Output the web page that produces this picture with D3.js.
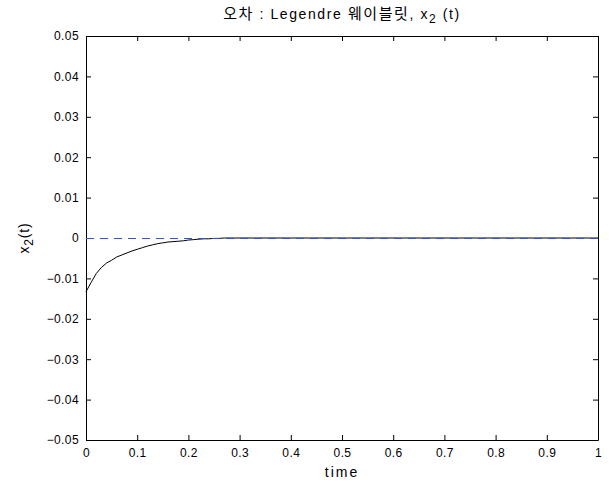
<!DOCTYPE html>
<html>
<head>
<meta charset="utf-8">
<script src="https://cdn.jsdelivr.net/npm/d3@7"></script>
<style>
  html, body { margin: 0; padding: 0; background: #fff; }
  svg { display: block; }
  text { font-family: "Liberation Sans", Arial, Helvetica, sans-serif; fill: #000; }
</style>
</head>
<body>
<script>
// Error of the x2(t) state, Legendre wavelet approximation
const timeValues = [0, 0.01, 0.02, 0.03, 0.04, 0.05, 0.06, 0.07, 0.08, 0.09,
  0.10, 0.11, 0.12, 0.13, 0.14, 0.15, 0.16, 0.17, 0.18, 0.19,
  0.20, 0.21, 0.22, 0.23, 0.24, 0.25, 0.26, 0.27, 1.0];
const errorValues = [-0.0133, -0.0110, -0.0088, -0.0073, -0.0062, -0.0055, -0.0047, -0.0042, -0.0037, -0.0032,
  -0.0028, -0.0024, -0.0020, -0.0017, -0.0014, -0.0012, -0.0010, -0.0009, -0.0008, -0.0007,
  -0.0005, -0.0004, -0.0003, -0.0002, -0.0002, -0.0001, -0.0001, 0, 0];
const referenceLine = [0, 0]; // zero reference over the full time range
const xTicks = [0, 0.1, 0.2, 0.3, 0.4, 0.5, 0.6, 0.7, 0.8, 0.9, 1];
const yTicks = [-0.05, -0.04, -0.03, -0.02, -0.01, 0, 0.01, 0.02, 0.03, 0.04, 0.05];

const W = 609, H = 483;
const m = { left: 86, right: 11, top: 36, bottom: 43 };
const iw = W - m.left - m.right, ih = H - m.top - m.bottom;

const svg = d3.select("body").append("svg").attr("width", W).attr("height", H);
const g = svg.append("g").attr("transform", `translate(${m.left},${m.top})`);

const x = d3.scaleLinear().domain([0, 1]).range([0, iw]);
const y = d3.scaleLinear().domain([-0.05, 0.05]).range([ih, 0]);

const fmtY = v => (Math.abs(v) < 1e-12 ? "0" : d3.format(".2f")(v));
const fmtX = v => (v === 0 ? "0" : v === 1 ? "1" : d3.format(".1f")(v));

// Axes with inward ticks, MATLAB-like box
const axBottom = g.append("g").attr("transform", `translate(0,${ih})`)
  .call(d3.axisBottom(x).tickValues(xTicks).tickFormat(fmtX).tickSizeInner(-5).tickSizeOuter(0).tickPadding(8));
const axTop = g.append("g")
  .call(d3.axisTop(x).tickValues(xTicks).tickFormat("").tickSizeInner(-5).tickSizeOuter(0));
const axLeft = g.append("g")
  .call(d3.axisLeft(y).tickValues(yTicks).tickFormat(fmtY).tickSizeInner(-5).tickSizeOuter(0).tickPadding(7));
const axRight = g.append("g").attr("transform", `translate(${iw},0)`)
  .call(d3.axisRight(y).tickValues(yTicks).tickFormat("").tickSizeInner(-5).tickSizeOuter(0));

[axBottom, axTop, axLeft, axRight].forEach(a => {
  a.select(".domain").attr("stroke", "#000").attr("stroke-width", 1);
  a.selectAll(".tick line").attr("stroke", "#000");
  a.selectAll("text").style("font-size", "12px").style("letter-spacing", "0.4px").attr("fill", "#000");
});
axBottom.selectAll("text").attr("dy", "0.71em");

// Error curve
const line = d3.line().x((d, i) => x(timeValues[i])).y(d => y(d));
g.append("path").datum(errorValues)
  .attr("fill", "none").attr("stroke", "#000").attr("stroke-width", 1)
  .attr("d", line);

// Dashed zero reference
g.append("path").datum(referenceLine)
  .attr("transform", "translate(0,0.5)")
  .attr("fill", "none").attr("stroke", "#2f57c8").attr("stroke-width", 1)
  .attr("stroke-dasharray", "8,6")
  .attr("d", d3.line().x((d, i) => x(i)).y(d => y(d)));

// Title
const title = svg.append("text").attr("x", m.left + iw / 2).attr("y", 19)
  .attr("text-anchor", "middle").style("font-size", "14px").style("letter-spacing", "1.6px");
title.append("tspan").style("font-family", "'Noto Sans CJK KR', sans-serif").style("font-size", "15px").text("오차");
title.append("tspan").text(" : Legendre ");
title.append("tspan").style("font-family", "'Noto Sans CJK KR', sans-serif").style("font-size", "15px").text("웨이블릿");
title.append("tspan").text(", x");
title.append("tspan").attr("dy", 4).style("font-size", "12px").text("2");
title.append("tspan").attr("dy", -4).text(" (t)");

// Axis labels
svg.append("text").attr("x", m.left + iw / 2).attr("y", 477)
  .attr("text-anchor", "middle").style("font-size", "14px").style("letter-spacing", "2px").text("time");

const yl = svg.append("text")
  .attr("transform", `translate(29,${m.top + ih / 2}) rotate(-90)`)
  .attr("text-anchor", "middle").style("font-size", "14px").style("letter-spacing", "0.8px");
yl.append("tspan").text("x");
yl.append("tspan").attr("dy", 4).style("font-size", "12px").text("2");
yl.append("tspan").attr("dy", -4).text("(t)");
</script>
</body>
</html>
